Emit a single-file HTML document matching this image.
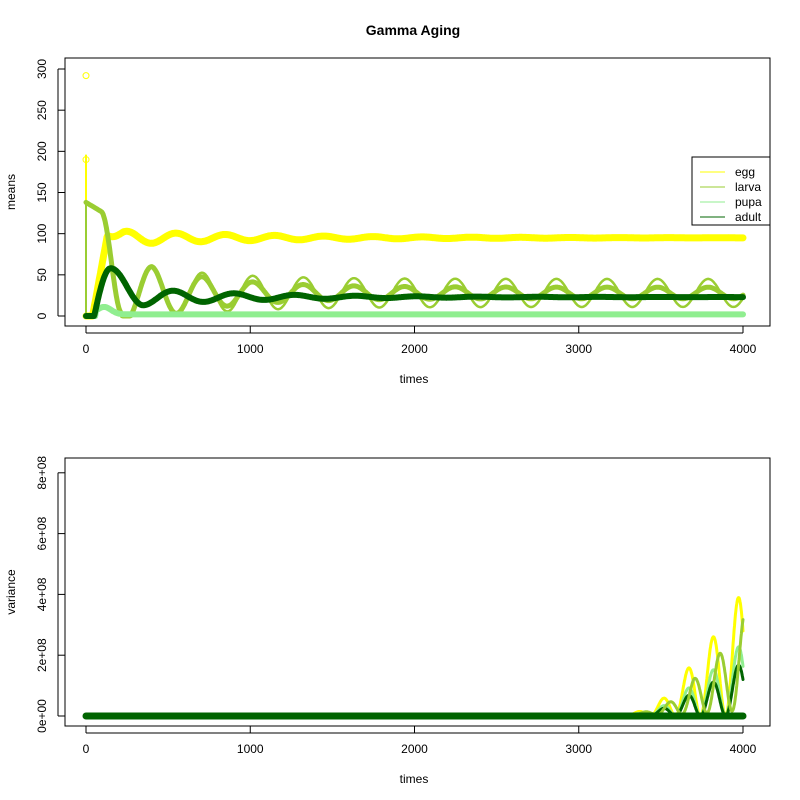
<!DOCTYPE html>
<html><head><meta charset="utf-8"><style>
body{margin:0;background:#fff;}
svg{display:block;font-family:"Liberation Sans",sans-serif;}
</style></head><body>
<svg id="s" width="800" height="800" xmlns="http://www.w3.org/2000/svg">
<rect width="800" height="800" fill="#fff"/>
<text x="413" y="35" font-size="14" font-weight="bold" text-anchor="middle">Gamma Aging</text>
<g id="gtop"></g><g id="gbot"></g>
<rect x="65" y="58" width="705" height="268" fill="none" stroke="#000"/>
<rect x="65" y="458" width="705" height="268" fill="none" stroke="#000"/>
<g font-size="12" fill="#000">
<text x="414" y="383" text-anchor="middle">times</text>
<text x="414" y="783" text-anchor="middle">times</text>
<text transform="translate(15,192) rotate(-90)" text-anchor="middle">means</text>
<text transform="translate(15,592) rotate(-90)" text-anchor="middle">variance</text>
</g>
<g id="ax" stroke="#000" fill="none"></g>
<g id="axt" font-size="12"></g>
<rect x="692" y="157" width="78" height="68" fill="#fff" stroke="#000"/>
<g font-size="12">
<line x1="700" y1="172" x2="725" y2="172" stroke="#ffff00"/><text x="735" y="176">egg</text>
<line x1="700" y1="187" x2="725" y2="187" stroke="#9acd32"/><text x="735" y="191">larva</text>
<line x1="700" y1="202" x2="725" y2="202" stroke="#90ee90"/><text x="735" y="206">pupa</text>
<line x1="700" y1="217" x2="725" y2="217" stroke="#006400"/><text x="735" y="221">adult</text>
</g>
</svg>
<script>
(function(){
const NS="http://www.w3.org/2000/svg";
const X=t=>86+t*0.16425, Y=v=>316-v*0.8233, Y2=v=>716-v*30.4;
function el(p,n,a){const e=document.createElementNS(NS,n);for(const k in a)e.setAttribute(k,a[k]);p.appendChild(e);return e;}
const ax=document.getElementById('ax'),axt=document.getElementById('axt');
[0,1000,2000,3000,4000].forEach(t=>{
 [[326,345],[726,745]].forEach(([y,ly])=>{el(ax,'line',{x1:X(t),y1:y,x2:X(t),y2:y+7});const tx=el(axt,'text',{x:X(t),y:ly+8,'text-anchor':'middle'});tx.textContent=t;});
});
el(ax,'line',{x1:X(0),y1:333,x2:X(4000),y2:333});el(ax,'line',{x1:X(0),y1:733,x2:X(4000),y2:733});
[0,50,100,150,200,250,300].forEach(v=>{el(ax,'line',{x1:58,y1:Y(v),x2:65,y2:Y(v)});const tx=el(axt,'text',{transform:`translate(46,${Y(v)}) rotate(-90)`,'text-anchor':'middle'});tx.textContent=v;});
el(ax,'line',{x1:58,y1:Y(0),x2:58,y2:Y(300)});
['0e+00','2e+08','4e+08','6e+08','8e+08'].forEach((l,i)=>{el(ax,'line',{x1:58,y1:Y2(i*2),x2:65,y2:Y2(i*2)});const tx=el(axt,'text',{transform:`translate(46,${Y2(i*2)}) rotate(-90)`,'text-anchor':'middle'});tx.textContent=l;});
el(ax,'line',{x1:58,y1:Y2(0),x2:58,y2:Y2(8)});
function path(g,f,Yf,w,c,t0,t1,st){st=st||4;let d='';for(let t=t0;t<=t1;t+=st){d+=(d?'L':'M')+X(t).toFixed(1)+','+Yf(f(t)).toFixed(1);}el(g,'path',{d,stroke:c,'stroke-width':w,fill:'none','stroke-linejoin':'round','stroke-linecap':'round'});}
const gt=document.getElementById('gtop'),gb=document.getElementById('gbot');
const P=2*Math.PI;
const egg=t=>t<40?0:(t<130?(t-40)/90*98:95-9*Math.exp(-(t-130)/900)*Math.cos(P*(t-100)/300)*Math.min(1,(t-130)/100)+ (t<230?3*(1-(t-130)/100):0));
function larva(t,amp0,amp1){
 if(t<90)return 138-t*0.12;
 if(t<220){const u=(t-90)/130;return 3+124*(1+Math.cos(Math.PI*u))/2;}
 const A=amp1+(amp0-amp1)*Math.exp(-(t-400)/450);
 return Math.max(0,28 + Math.min(A,32)*Math.cos(P*(t-400)/308));
}
const adult=t=>{
 if(t<50)return 0;
 if(t<150)return 58*Math.sin((t-50)/100*Math.PI/2);
 if(t<350)return 13+45*(1+Math.cos(Math.PI*(t-150)/200))/2;
 return 23-10*Math.exp(-(t-350)/700)*Math.cos(P*(t-350)/370);
};
const pupa=t=>t<60?0:(t<300?2+9*Math.exp(-Math.pow((t-110)/60,2)):2);
path(gt,egg,Y,7,'#ffff00',0,4000);
el(gt,'line',{x1:X(0),y1:Y(0),x2:X(0),y2:Y(196),stroke:'#ffff00','stroke-width':2});
el(gt,'circle',{cx:X(0),cy:Y(292),r:3,fill:'none',stroke:'#ffff00'});
el(gt,'circle',{cx:X(0),cy:Y(190),r:3,fill:'none',stroke:'#ffff00'});
path(gt,t=>larva(t,32,17),Y,2.5,'#9acd32',0,4000);
path(gt,t=>larva(t,32,7),Y,5,'#9acd32',0,4000);
el(gt,'line',{x1:X(0),y1:Y(0),x2:X(0),y2:Y(138),stroke:'#9acd32','stroke-width':2});
path(gt,pupa,Y,6,'#90ee90',0,4000);
path(gt,adult,Y,6,'#006400',0,4000);
function v(t,A,ph,g){if(t<3200)return 0;const e=A*Math.exp((t-4000)/g)*Math.min(1,Math.pow((t-3200)/500,1.5));return e*(1+Math.cos(P*(t-3970+ph)/153))/2;}
path(gb,t=>v(t,4.2,0,380),Y2,3,'#ffff00',3100,4000,2);
path(gb,t=>v(t,2.45,0,380),Y2,3,'#90ee90',3100,4000,2);
path(gb,t=>v(t,1.8,0,380),Y2,3,'#006400',3100,4000,2);
path(gb,t=>v(t,3.1,-40,300)+0.2*Math.exp((t-4000)/300),Y2,3,'#9acd32',3100,4000,2);
el(gb,'line',{x1:X(0),y1:Y2(0),x2:X(4000),y2:Y2(0),stroke:'#006400','stroke-width':7,'stroke-linecap':'round'});
})();
</script>
</body></html>
